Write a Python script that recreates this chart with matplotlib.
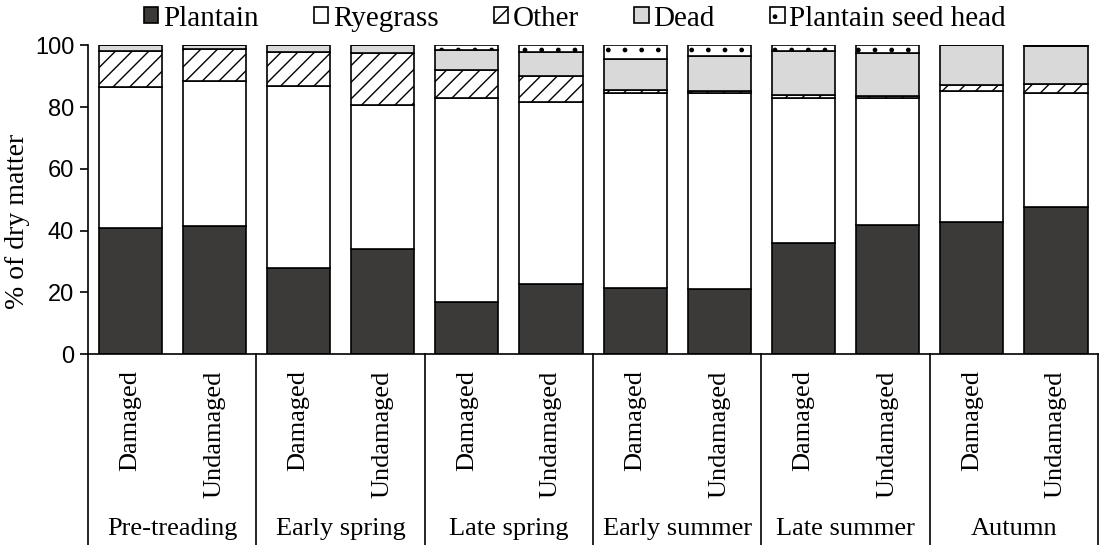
#!/usr/bin/env python3

import matplotlib
matplotlib.use('Agg')
import matplotlib.pyplot as plt
import numpy as np

plt.rcParams['hatch.linewidth'] = 1.0
plt.rcParams['font.family'] = 'Liberation Serif'

seasons = ['Pre-treading', 'Early spring', 'Late spring',
           'Early summer', 'Late summer', 'Autumn']
treatments = ['Damaged', 'Undamaged']

# % of dry matter, one value per bar (Damaged, Undamaged for each season)
plantain = [40.9, 41.5, 27.8, 33.9, 16.8, 22.8, 21.4, 21.2, 35.9, 41.9, 42.7, 47.5]
ryegrass = [45.6, 46.9, 59.0, 46.9, 66.2, 58.9, 63.0, 63.4, 47.1, 41.1, 42.6, 36.9]
other = [11.6, 10.5, 11.0, 16.8, 8.9, 8.2, 1.1, 0.6, 0.8, 0.7, 1.7, 3.1]
dead = [1.9, 1.1, 2.2, 2.4, 6.7, 7.9, 10.2, 11.2, 14.4, 13.9, 13.0, 12.1]
seed_head = [0.0, 0.0, 0.0, 0.0, 1.4, 2.2, 4.3, 3.6, 1.8, 2.4, 0.0, 0.4]

series = [
    ('Plantain', plantain, '#3b3a38', None),
    ('Ryegrass', ryegrass, 'white', None),
    ('Other', other, 'white', '//'),
    ('Dead', dead, '#d9d9d9', None),
    ('Plantain seed head', seed_head, 'white', '.'),
]

fig = plt.figure(figsize=(11.03, 5.45), dpi=100)
ax = fig.add_axes([0.0798, 0.350, 0.9157, 0.567])

x = np.arange(len(plantain))
bottom = np.zeros(len(x))
handles = []
for name, vals, color, hatch in series:
    bars = ax.bar(x, vals, 0.75, bottom=bottom, color=color, edgecolor='black',
                  linewidth=1.2, hatch=hatch, label=name)
    handles.append(bars)
    bottom += np.array(vals)

ax.set_xlim(-0.5, len(x) - 0.5)
ax.set_ylim(0, 100)
ax.set_yticks(range(0, 101, 20))
for lbl in ax.get_yticklabels():
    lbl.set_fontfamily('Liberation Sans')
    lbl.set_fontsize(17)
ax.tick_params(axis='y', length=6, width=1.2, direction='out', pad=4)
ax.set_xticks([])
ax.spines['top'].set_visible(False)
ax.spines['right'].set_visible(False)
ax.spines['left'].set_linewidth(1.2)
ax.spines['bottom'].set_linewidth(1.2)
ax.set_ylabel('% of dry matter', fontsize=20)
ax.yaxis.set_label_coords(-0.057, 0.43)

# bar and group labels below the axis
trans = ax.get_xaxis_transform()
for i in x:
    ax.text(i, -0.052, treatments[i % 2], rotation=90, ha='center', va='top',
            fontsize=19, transform=trans)
for g, name in enumerate(seasons):
    ax.text(2 * g + 0.5, -0.565, name, ha='center', va='center',
            fontsize=19, transform=trans)
for b in np.arange(-0.5, len(x), 2):
    ax.plot([b, b], [0, -0.62], color='black', lw=1.2, transform=trans,
            clip_on=False)

fig.legend(handles=handles, loc='center', bbox_to_anchor=(0.521, 0.966), ncol=5,
           frameon=False, fontsize=21, handlelength=0.5, handleheight=0.5,
           handletextpad=0.15, columnspacing=1.9, borderaxespad=0)

fig.savefig('out.png', dpi=100)
